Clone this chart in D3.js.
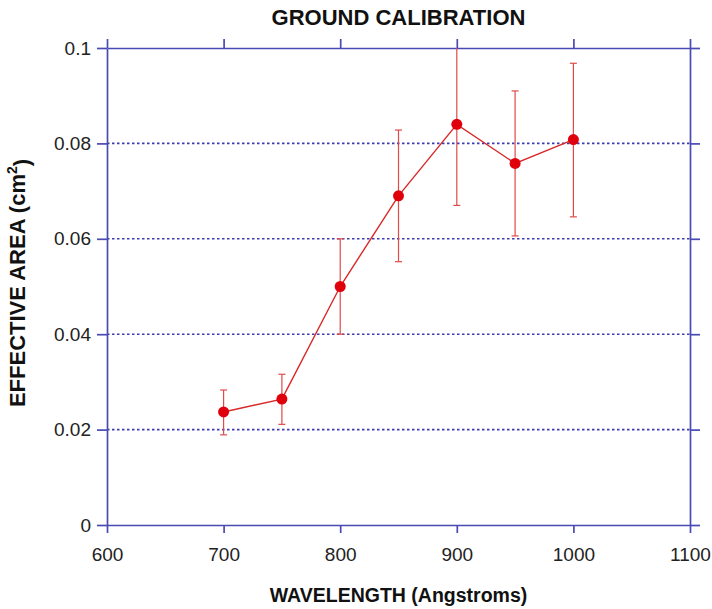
<!DOCTYPE html>
<html>
<head>
<meta charset="utf-8">
<script src="https://cdn.jsdelivr.net/npm/d3@7"></script>
<style>
  body { margin: 0; background: #fff; }
  text { font-family: "Liberation Sans", Arial, sans-serif; }
</style>
</head>
<body>
<div id="chart"></div>
<script>
// values
var wavelengths = [700, 750, 800, 850, 900, 950, 1000];
var effArea = [0.0237, 0.0264, 0.0500, 0.0690, 0.0840, 0.0758, 0.0808];
var errLow = [0.0189, 0.0211, 0.0400, 0.0552, 0.0670, 0.0606, 0.0646];
var errHigh = [0.0283, 0.0316, 0.0600, 0.0828, 0.1010, 0.0910, 0.0968];
var xTicks = [600, 700, 800, 900, 1000, 1100];
var yTicks = [0, 0.02, 0.04, 0.06, 0.08, 0.1];
var gridTicks = [0.02, 0.04, 0.06, 0.08];

var data = wavelengths.map(function (w, i) {
  return { w: w, v: effArea[i], lo: errLow[i], hi: errHigh[i] };
});

const width = 712,
  height = 609;
const margin = { top: 48, right: 22, bottom: 84, left: 107 };
const axisColor = "#4a4ab4";

const svg = d3
  .select("#chart")
  .append("svg")
  .attr("width", width)
  .attr("height", height);

const x = d3.scaleLinear().domain([600, 1100]).range([margin.left, width - margin.right]);
const y = d3.scaleLinear().domain([0, 0.1]).range([height - margin.bottom, margin.top]);

// dotted grid lines
svg
  .append("g")
  .selectAll("line")
  .data(gridTicks)
  .join("line")
  .attr("x1", x(600))
  .attr("x2", x(1100))
  .attr("y1", function (d) { return y(d); })
  .attr("y2", function (d) { return y(d); })
  .attr("stroke", "#3c3cb0")
  .attr("stroke-width", 1.6)
  .attr("stroke-dasharray", "2.5,2.5");

function styleAxis(g) {
  g.selectAll("path").attr("stroke", axisColor).attr("stroke-width", 1.7);
  g.selectAll(".tick line").attr("stroke", axisColor).attr("stroke-width", 1.7);
  g.selectAll("text")
    .attr("fill", "#222")
    .style("font-size", "19px");
}

// bottom axis
svg
  .append("g")
  .attr("transform", "translate(0," + y(0) + ")")
  .call(d3.axisBottom(x).tickValues(xTicks).tickSize(8).tickSizeOuter(0).tickPadding(10).tickFormat(d3.format("d")))
  .call(styleAxis)
  .call(function (g) { g.selectAll("text").attr("dy", "0.95em"); });

// top axis (no labels)
svg
  .append("g")
  .attr("transform", "translate(0," + y(0.1) + ")")
  .call(d3.axisTop(x).tickValues(xTicks).tickSize(9).tickSizeOuter(0).tickFormat(""))
  .call(styleAxis);

// left axis
svg
  .append("g")
  .attr("transform", "translate(" + x(600) + ",0)")
  .call(d3.axisLeft(y).tickValues(yTicks).tickSize(10).tickSizeOuter(0).tickPadding(6).tickFormat(function (d) { return d === 0 ? "0" : String(+d.toFixed(2)); }))
  .call(styleAxis);

// right axis (no labels)
svg
  .append("g")
  .attr("transform", "translate(" + x(1100) + ",0)")
  .call(d3.axisRight(y).tickValues(yTicks).tickSize(10).tickSizeOuter(0).tickFormat(""))
  .call(styleAxis);

// clip for the error bars that go beyond the top
svg
  .append("clipPath")
  .attr("id", "plotclip")
  .append("rect")
  .attr("x", x(600))
  .attr("y", y(0.1))
  .attr("width", x(1100) - x(600))
  .attr("height", y(0) - y(0.1));

const plot = svg.append("g").attr("clip-path", "url(#plotclip)");
const capW = 3.5;
const errColor = "#e04a4a";

plot
  .selectAll(".err")
  .data(data)
  .join("line")
  .attr("class", "err")
  .attr("x1", function (d) { return x(d.w); })
  .attr("x2", function (d) { return x(d.w); })
  .attr("y1", function (d) { return y(d.lo); })
  .attr("y2", function (d) { return y(d.hi); })
  .attr("stroke", errColor)
  .attr("stroke-width", 1.2);

plot
  .selectAll(".capLo")
  .data(data)
  .join("line")
  .attr("class", "capLo")
  .attr("x1", function (d) { return x(d.w) - capW; })
  .attr("x2", function (d) { return x(d.w) + capW; })
  .attr("y1", function (d) { return y(d.lo); })
  .attr("y2", function (d) { return y(d.lo); })
  .attr("stroke", errColor)
  .attr("stroke-width", 1.2);

plot
  .selectAll(".capHi")
  .data(data.filter(function (d) { return d.hi <= 0.1; }))
  .join("line")
  .attr("class", "capHi")
  .attr("x1", function (d) { return x(d.w) - capW; })
  .attr("x2", function (d) { return x(d.w) + capW; })
  .attr("y1", function (d) { return y(d.hi); })
  .attr("y2", function (d) { return y(d.hi); })
  .attr("stroke", errColor)
  .attr("stroke-width", 1.2);

const line = d3
  .line()
  .x(function (d) { return x(d.w); })
  .y(function (d) { return y(d.v); });

plot
  .append("path")
  .datum(data)
  .attr("d", line)
  .attr("fill", "none")
  .attr("stroke", "#d82828")
  .attr("stroke-width", 1.4);

plot
  .selectAll("circle")
  .data(data)
  .join("circle")
  .attr("cx", function (d) { return x(d.w); })
  .attr("cy", function (d) { return y(d.v); })
  .attr("r", 5.5)
  .attr("fill", "#e0000c");

// titles
svg
  .append("text")
  .attr("x", (x(600) + x(1100)) / 2)
  .attr("y", 25)
  .attr("text-anchor", "middle")
  .attr("font-weight", "bold")
  .style("font-size", "22px")
  .attr("fill", "#111")
  .text("GROUND CALIBRATION");

svg
  .append("text")
  .attr("x", (x(600) + x(1100)) / 2)
  .attr("y", 602)
  .attr("text-anchor", "middle")
  .attr("font-weight", "bold")
  .style("font-size", "19.5px")
  .attr("fill", "#111")
  .text("WAVELENGTH (Angstroms)");

const ylab = svg
  .append("text")
  .attr("transform", "translate(25," + 283 + ") rotate(-90)")
  .attr("text-anchor", "middle")
  .attr("font-weight", "bold")
  .style("font-size", "22px")
  .attr("fill", "#111");
ylab.append("tspan").text("EFFECTIVE AREA (cm");
ylab.append("tspan").attr("dy", "-0.55em").style("font-size", "14px").text("2");
ylab.append("tspan").attr("dy", "0.55em").text(")");
</script>
</body>
</html>
